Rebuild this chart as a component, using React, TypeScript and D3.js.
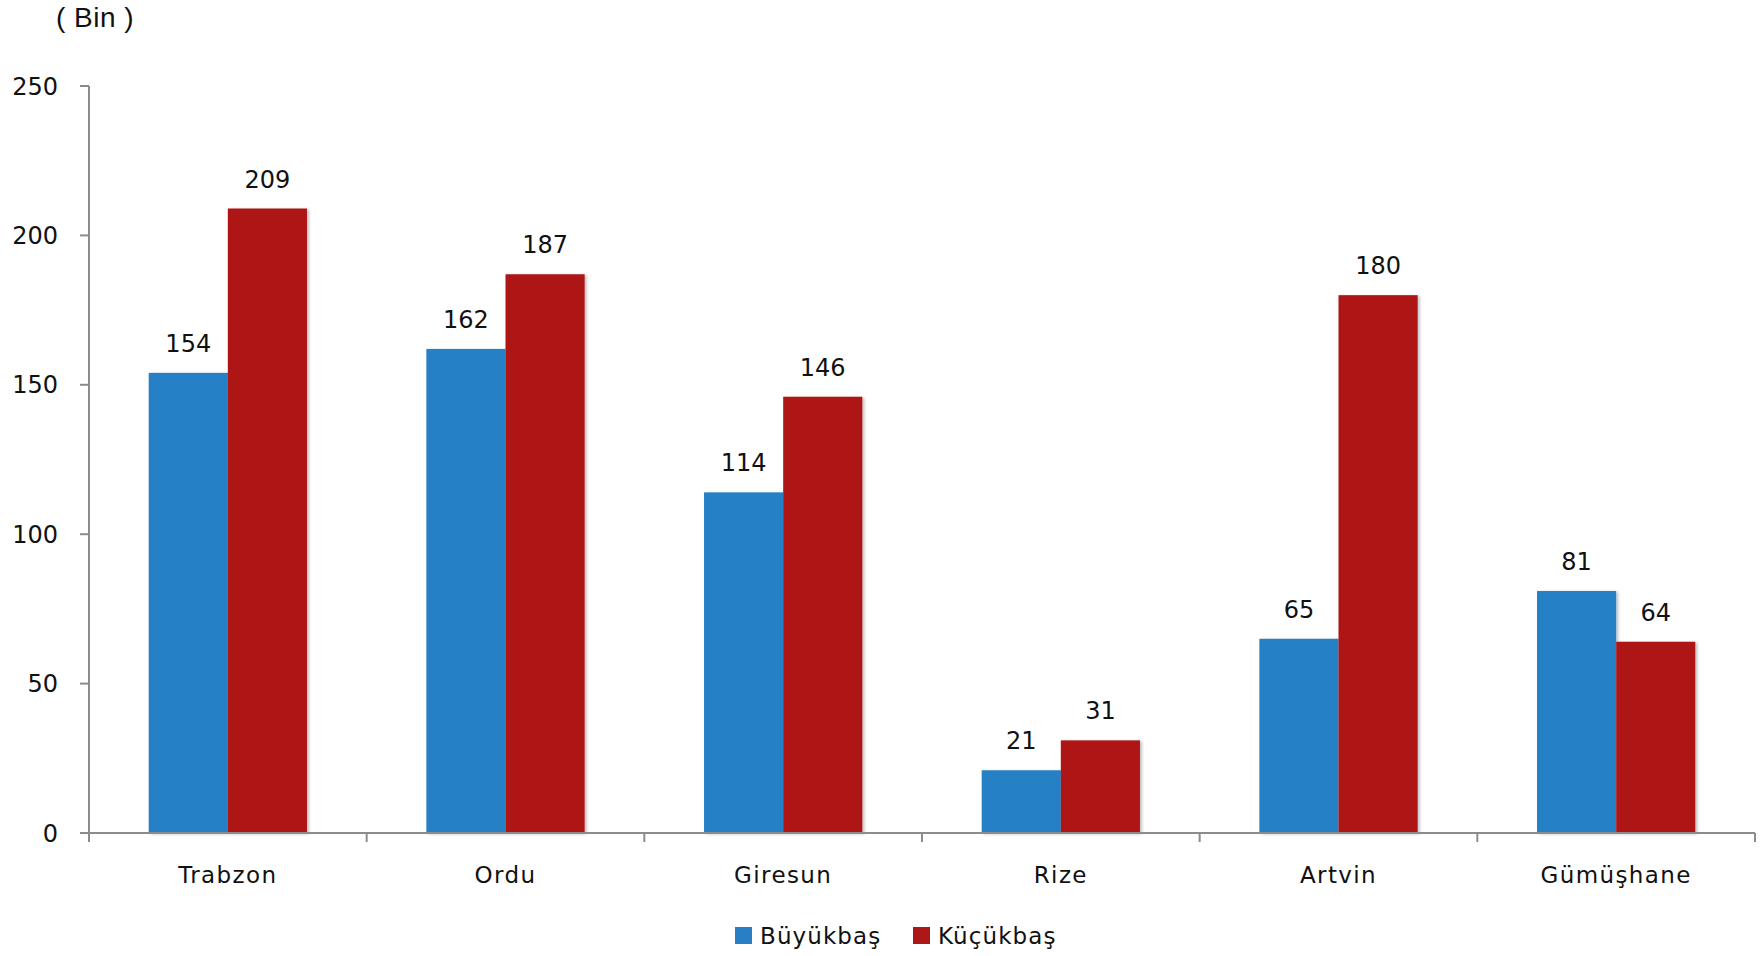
import React from "react";
import * as d3 from "d3";

const categories = ["Trabzon", "Ordu", "Giresun", "Rize", "Artvin", "Gümüşhane"];
const seriesNames = ["Büyükbaş", "Küçükbaş"];
const buyukbas = [154, 162, 114, 21, 65, 81];
const kucukbas = [209, 187, 146, 31, 180, 64];
const yTicks = [0, 50, 100, 150, 200, 250];
const colors = ["#2780C5", "#AE1717"];

const W = 1762;
const H = 956;
const left = 89;
const right = 1755;
const top = 86;
const bottom = 833;
const FONT = "'DejaVu Sans', Verdana, sans-serif";

export default function App() {
  const x0 = d3
    .scaleBand<string>()
    .domain(categories)
    .range([left, right])
    .paddingInner(0.43)
    .paddingOuter(0.215);
  const x1 = d3.scaleBand<number>().domain([0, 1]).range([0, x0.bandwidth()]);
  const y = d3.scaleLinear().domain([0, 250]).range([bottom, top]);
  const step = x0.step();
  const series = [buyukbas, kucukbas];

  return (
    <svg
      width={W}
      height={H}
      style={{ position: "absolute", left: 0, top: 0, background: "#fff" }}
      fontFamily={FONT}
    >
      <defs>
        <filter id="sh" x="-10%" y="-5%" width="125%" height="110%">
          <feDropShadow dx="2" dy="1" stdDeviation="1.5" floodColor="#000" floodOpacity="0.25" />
        </filter>
      </defs>
      <text x={56} y={27} fontSize={28} letterSpacing={0.5} fontFamily="'Liberation Sans', Arial, sans-serif" fill="#111">
        ( Bin )
      </text>

      {/* bars */}
      {series.map((vals, s) =>
        categories.map((c, i) => {
          const bx = (x0(c) as number) + (x1(s) as number);
          return (
            <rect
              key={`${s}-${i}`}
              x={bx}
              y={y(vals[i])}
              width={x1.bandwidth()}
              height={bottom - y(vals[i])}
              fill={colors[s]}
              filter="url(#sh)"
            />
          );
        })
      )}

      {/* value labels */}
      {series.map((vals, s) =>
        categories.map((c, i) => {
          const bx = (x0(c) as number) + (x1(s) as number) + x1.bandwidth() / 2;
          return (
            <text
              key={`l${s}-${i}`}
              x={bx}
              y={y(vals[i]) - 21}
              textAnchor="middle"
              fontSize={24}
              fill="#111"
            >
              {vals[i]}
            </text>
          );
        })
      )}

      {/* y axis */}
      <line x1={left} x2={left} y1={top} y2={bottom} stroke="#8c8c8c" strokeWidth={2} />
      {yTicks.map((t) => (
        <g key={t}>
          <line x1={left - 9} x2={left} y1={y(t)} y2={y(t)} stroke="#8c8c8c" strokeWidth={2} />
          <text
            x={58}
            y={y(t)}
            dy="0.36em"
            textAnchor="end"
            fontSize={24}
            fill="#111"
          >
            {t}
          </text>
        </g>
      ))}

      {/* x axis */}
      <line x1={left - 9} x2={right} y1={bottom} y2={bottom} stroke="#8c8c8c" strokeWidth={2} />
      {d3.range(categories.length + 1).map((i) => (
        <line
          key={`t${i}`}
          x1={left + i * step}
          x2={left + i * step}
          y1={bottom}
          y2={bottom + 9}
          stroke="#8c8c8c"
          strokeWidth={2}
        />
      ))}
      {categories.map((c) => (
        <text
          key={c}
          x={(x0(c) as number) + x0.bandwidth() / 2}
          y={883}
          textAnchor="middle"
          fontSize={23}
          letterSpacing={1.4}
          fill="#111"
        >
          {c}
        </text>
      ))}

      {/* legend */}
      {seriesNames.map((n, s) => {
        const lx = s === 0 ? 735 : 913;
        return (
          <g key={n}>
            <rect x={lx} y={927} width={17} height={17} fill={colors[s]} />
            <text x={lx + 25} y={944} fontSize={23} letterSpacing={1.1} fill="#111">
              {n}
            </text>
          </g>
        );
      })}
    </svg>
  );
}
